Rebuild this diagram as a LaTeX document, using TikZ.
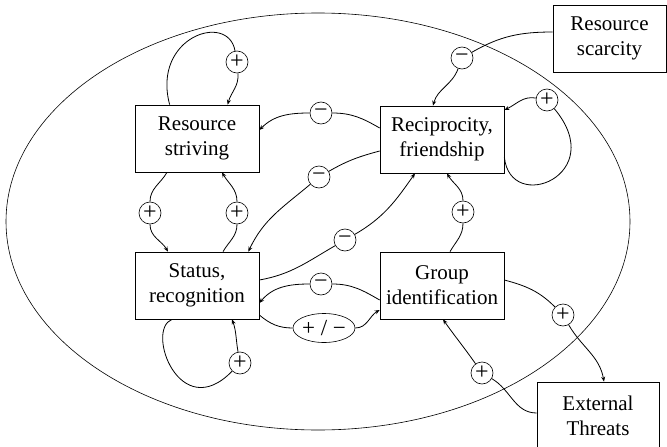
\documentclass[tikz,border=0pt]{standalone}
\usepackage{fontspec}
\setmainfont{Liberation Serif}
\usetikzlibrary{arrows.meta,shapes.geometric}

\tikzset{
  box/.style={draw, line width=0.7pt, fill=white, align=center, inner sep=0pt,
    minimum width=124pt, minimum height=67pt, font=\fontsize{21}{25}\selectfont},
  sign/.style={draw, circle, line width=0.6pt, fill=white, inner sep=0pt,
    minimum size=22pt, font=\fontsize{24}{24}\selectfont},
  signwide/.style={draw, ellipse, line width=0.6pt, fill=white, inner sep=0pt,
    minimum width=49pt, minimum height=29pt, font=\fontsize{23}{23}\selectfont},
  link/.style={line width=0.8pt},
  arr/.style={link, -{Stealth[length=5pt,width=4pt]}},
}

\begin{document}
\begin{tikzpicture}[x=1pt, y=-1pt]
\useasboundingbox (0,0) rectangle (667,447);

% system boundary
\draw[line width=0.6pt] (318,221.5) ellipse [x radius=312, y radius=208.5];

% variables
\node[box] (rs) at (197,138.5) {Resource\\striving};
\node[box] (rf) at (442,139.5) {Reciprocity,\\friendship};
\node[box] (sr) at (197,285.5) {Status,\\recognition};
\node[box] (gi) at (442,285.5) {Group\\identification};
\node[box, minimum width=113pt] (sc) at (609.5,38.5) {Resource\\scarcity};
\node[box, minimum width=122pt] (et) at (598,415.5) {External\\Threats};

% polarity markers
\node[sign] (p1) at (237,62) {+};
\node[sign] (m1) at (321,113) {−};
\node[sign] (m2) at (319,177) {−};
\node[sign] (m3) at (345,240) {−};
\node[sign] (p2) at (547,100) {+};
\node[sign] (m4) at (462,58) {−};
\node[sign] (p3) at (150,213) {+};
\node[sign] (p4) at (237,213) {+};
\node[sign] (p5) at (240,363) {+};
\node[sign] (m5) at (321,284) {−};
\node[signwide] (pm) at (324,328) {+ / −};
\node[sign] (p6) at (463,212) {+};
\node[sign] (p7) at (563,315) {+};
\node[sign] (p8) at (482,373) {+};

% resource striving reinforces itself
\draw[link] ([xshift=35pt]rs.north west) to[out=105,in=100,out distance=70pt,in distance=40pt] (p1);
\draw[arr] (p1) to[out=-85,in=75] ([xshift=93pt]rs.north west);

% reciprocity -> resource striving
\draw[link] ([yshift=11.5pt]rf.west) to[out=150,in=0] (m1);
\draw[arr] (m1) to[out=180,in=45] ([yshift=8.5pt]rs.east);

% reciprocity -> status
\draw[link] ([yshift=-11.5pt]rf.west) to[out=195,in=30] (m2);
\draw[arr] (m2) to[out=-140,in=65] ([xshift=-11pt]sr.north east);

% status -> reciprocity
\draw[link] ([yshift=5.5pt]sr.east) to[out=10,in=-150] (m3);
\draw[arr] (m3) to[out=30,in=-125] ([xshift=-27pt]rf.south);

% reciprocity reinforces itself
\draw[link] ([yshift=-17.5pt]rf.east) .. controls (510,215) and (610,175) .. (p2);
\draw[arr] (p2) to[out=170,in=25] ([yshift=29.5pt]rf.east);

% resource scarcity -> reciprocity
\draw[link] ([yshift=6.5pt]sc.west) to[out=180,in=30] (m4);
\draw[arr] (m4) to[out=-110,in=75] ([xshift=-9pt]rf.north);

% resource striving <-> status
\draw[link] ([xshift=-30pt]rs.south) to[out=-120,in=90] (p3);
\draw[arr] (p3) to[out=-90,in=120] ([xshift=-29pt]sr.north);
\draw[link] ([xshift=26pt]sr.north) to[out=60,in=-90] (p4);
\draw[arr] (p4) to[out=90,in=-60] ([xshift=25pt]rs.south);

% status reinforces itself
\draw[link] ([xshift=-25pt]sr.south) .. controls (145,330) and (180,425) .. (p5);
\draw[arr] (p5) to[out=100,in=-70] ([xshift=35pt]sr.south);

% group identification -> status
\draw[link] ([yshift=-14.5pt]gi.west) to[out=150,in=0] (m5);
\draw[arr] (m5) to[out=180,in=50] ([yshift=-17.5pt]sr.east);

% status -> group identification
\draw[link] ([yshift=-29.5pt]sr.east) to[out=-40,in=180] (pm);
\draw[arr] (pm) to[out=0,in=210] ([yshift=-24.5pt]gi.west);

% group identification -> reciprocity
\draw[link] ([xshift=8pt]gi.north) to[out=60,in=-90] (p6);
\draw[arr] (p6) to[out=90,in=-60] ([xshift=5pt]rf.south);

% group identification -> external threats
\draw[link] ([yshift=5.5pt]gi.east) to[out=-15,in=135] (p7);
\draw[arr] (p7) to[out=-60,in=100] ([xshift=6pt]et.north);

% external threats -> group identification
\draw[link] ([yshift=2.5pt]et.west) to[out=180,in=-30] (p8);
\draw[arr] (p8) to[out=125,in=-55] ([xshift=1pt]gi.south);
\end{tikzpicture}
\end{document}
